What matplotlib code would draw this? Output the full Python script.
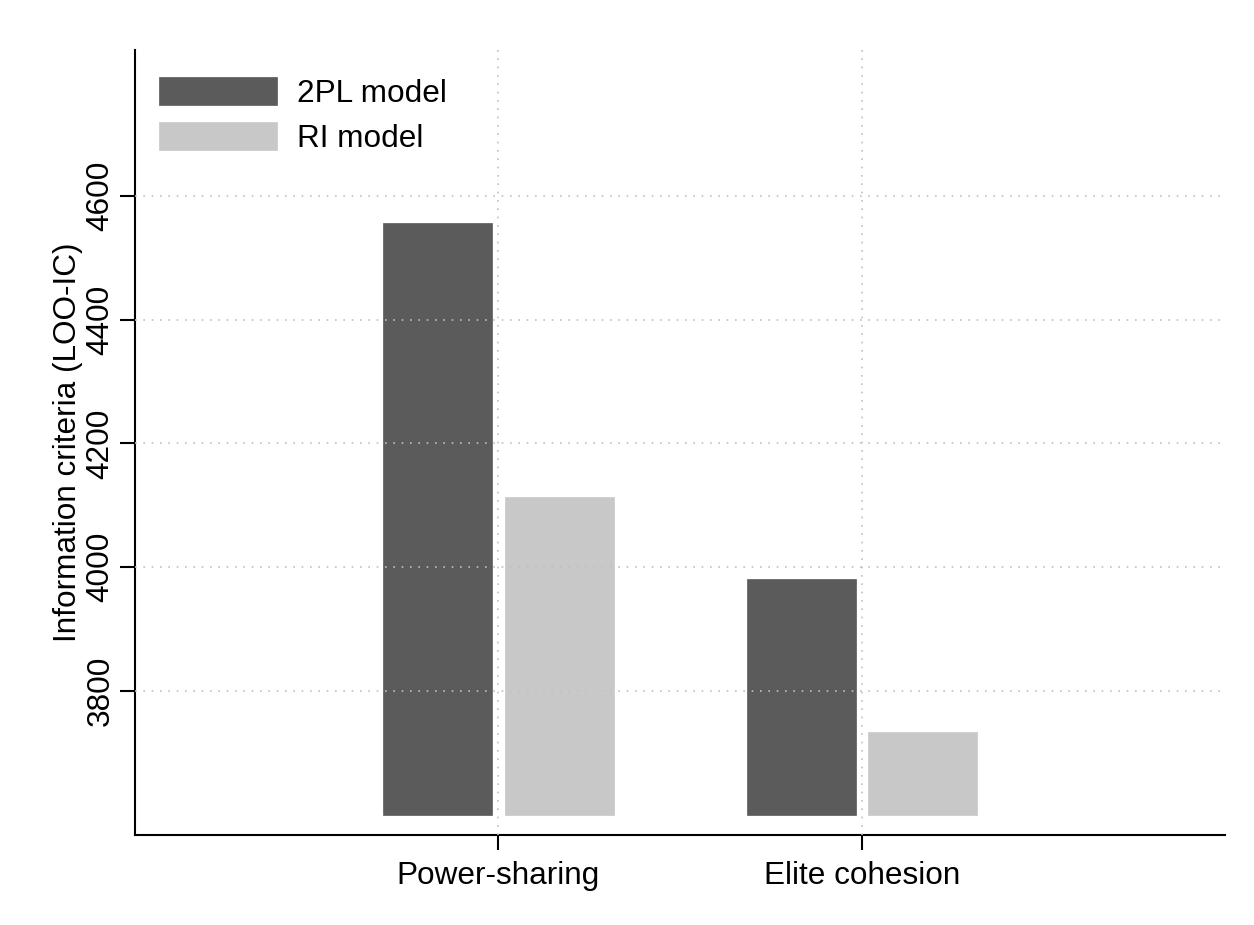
import matplotlib.pyplot as plt
import numpy as np

plt.rcParams['font.family'] = ['Liberation Sans', 'DejaVu Sans']

categories = ['Power-sharing', 'Elite cohesion']
series_names = ['2PL model', 'RI model']
loo_2pl = [4556, 3981]
loo_ri = [4113, 3734]
base = 3600
y_ticks = [3800, 4000, 4200, 4400, 4600]

fig = plt.figure(figsize=(12.54, 9.25), dpi=100)
ax = fig.add_axes([0.1077, 0.0973, 0.8692, 0.8487])

x = np.arange(1, len(categories) + 1)
w = 0.3
off = 0.167
ax.bar(x - off, np.array(loo_2pl) - base, w, bottom=base, color='#5b5b5b',
       edgecolor='#5b5b5b', linewidth=0.5, label=series_names[0], zorder=2)
ax.bar(x + off, np.array(loo_ri) - base, w, bottom=base, color='#c8c8c8',
       edgecolor='#c8c8c8', linewidth=0.5, label=series_names[1], zorder=2)

fs = 22.7
ax.set_xlim(0, 3)
ax.set_ylim(3567, 4836)
ax.set_xticks(x)
ax.set_xticklabels(categories, fontsize=fs)
ax.set_yticks(y_ticks)
ax.set_yticklabels([str(t) for t in y_ticks], fontsize=fs, rotation=90, va='center')
ax.set_ylabel('Information criteria (LOO-IC)', fontsize=fs, labelpad=2)

ax.grid(True, linestyle=(0, (1, 4)), color='#c0c0c0', linewidth=1.2, zorder=3)
ax.set_axisbelow(False)
for s in ['top', 'right']:
    ax.spines[s].set_visible(False)
for s in ['left', 'bottom']:
    ax.spines[s].set_linewidth(1.5)
ax.tick_params(axis='x', length=11, width=1.5, pad=8)
ax.tick_params(axis='y', length=11, width=1.5, pad=3)

ax.legend(loc='upper left', bbox_to_anchor=(0.022, 0.966), frameon=False,
          fontsize=fs, handlelength=3.75, handleheight=1.0, handletextpad=0.62,
          labelspacing=0.42, borderpad=0, borderaxespad=0)

fig.savefig('out.png', dpi=100)
